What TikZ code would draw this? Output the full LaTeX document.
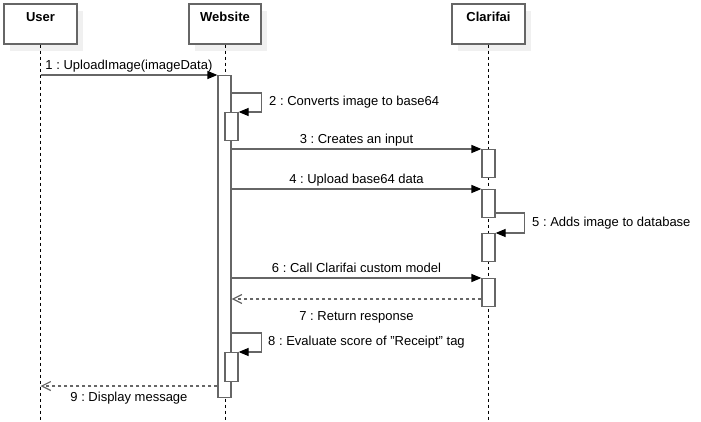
\documentclass[tikz,border=0pt]{standalone}
\usepackage{fontspec}
\setmainfont{Liberation Sans}
\usetikzlibrary{arrows.meta,shadows}
\frenchspacing

\tikzset{
  head/.style={draw=black!60, line width=1.2pt, fill=white, minimum width=73pt, minimum height=40pt,
    inner sep=0pt, text height=17.7pt, text depth=22.3pt, font=\fontsize{13}{15}\selectfont\bfseries,
    drop shadow={shadow xshift=6pt, shadow yshift=-7pt, opacity=1, fill=black!6}},
  life/.style={black, line width=0.8pt, dash pattern=on 3pt off 3pt},
  bar/.style={draw=black!60, line width=1.2pt, fill=white, minimum width=13pt, inner sep=0pt, anchor=north},
  msg/.style={draw=black!60, line width=1.2pt, -{Triangle[length=10pt,width=8pt,color=black]}},
  ret/.style={draw=black!60, line width=1.2pt, dash pattern=on 3pt off 3pt,
    -{Straight Barb[length=9pt,width=9pt,color=black!60]}},
  txt/.style={font=\fontsize{13}{15}\selectfont, text=black, inner sep=2pt, text height=9.5pt, text depth=2.8pt}
}

\begin{document}
\begin{tikzpicture}[x=1pt, y=-1pt]
\useasboundingbox (0,0) rectangle (701,422);

% lifelines
\node[head] (user) at (40.5,24) {User};
\node[head, minimum width=72pt] (web) at (225,24) {Website};
\node[head] (clar) at (488.5,24) {Clarifai};
\draw[life] (user.south) -- (user.south |- 0,422);
\draw[life] (web.south) -- (web.south |- 0,422);
\draw[life] (clar.south) -- (clar.south |- 0,422);

% activation bars
\node[bar, minimum height=322pt] (webbar) at (224.5,75) {};
\node[bar, minimum height=28pt] (b2) at (231.5,112) {};
\node[bar, minimum height=28pt] (b3) at (488.5,149) {};
\node[bar, minimum height=28pt] (b4) at (488.5,189) {};
\node[bar, minimum height=28pt] (b5) at (488.5,233) {};
\node[bar, minimum height=28pt] (b6) at (488.5,278) {};
\node[bar, minimum height=29pt] (b8) at (231.5,352) {};

% messages
\draw[msg] (user.south |- webbar.north) -- (webbar.north west)
  node[txt, midway, above=0.5pt] {1 : UploadImage(imageData)};
\draw[msg] (webbar.east |- 0,93) -- ++(30,0)
  |- node[txt, pos=0.25, right=5pt] {2 : Converts image to base64} (b2.north east);
\draw[msg] (webbar.east |- b3.north) -- (b3.north west)
  node[txt, midway, above] {3 : Creates an input};
\draw[msg] (webbar.east |- b4.north) -- (b4.north west)
  node[txt, midway, above] {4 : Upload base64 data};
\draw[msg] (b4.east |- 0,213) -- ++(29,0)
  |- node[txt, pos=0.25, right=5pt] {5 : Adds image to database} (b5.north east);
\draw[msg] (webbar.east |- b6.north) -- (b6.north west)
  node[txt, midway, above] {6 : Call Clarifai custom model};
\draw[ret] (b6.west |- 0,299) -- (webbar.east |- 0,299)
  node[txt, midway, below=9pt] {7 : Return response};
\draw[msg] (webbar.east |- 0,333) -- ++(30,0)
  |- node[txt, pos=0.25, right=4pt] {8 : Evaluate score of "Receipt" tag} (b8.north east);
\draw[ret] (webbar.west |- 0,386) -- (user.south |- 0,386)
  node[txt, midway, below=3pt] {9 : Display message};
\end{tikzpicture}
\end{document}
